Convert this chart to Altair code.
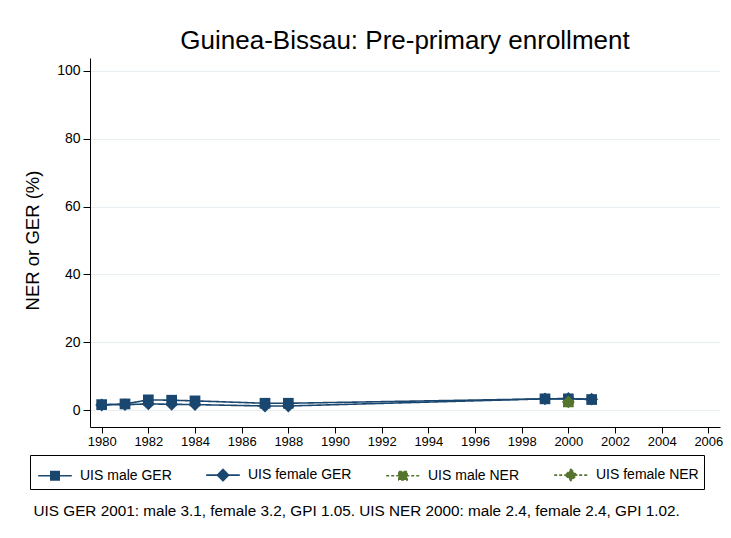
import altair as alt
import pandas as pd

# ---- data ----
series_names = ["UIS male GER", "UIS female GER", "UIS male NER", "UIS female NER"]
years_ger = [1980, 1981, 1982, 1983, 1984, 1987, 1988, 1999, 2000, 2001]
male_ger = [1.6, 1.8, 3.0, 2.9, 2.7, 2.0, 2.0, 3.3, 3.3, 3.1]
female_ger = [1.5, 1.6, 1.8, 1.7, 1.6, 1.2, 1.2, 3.3, 3.4, 3.2]
years_ner = [2000]
male_ner = [2.4]
female_ner = [2.4]

colors = ["#1a476f", "#1a476f", "#55752f", "#55752f"]
dashes = [[1, 0], [1, 0], [3, 2], [3, 2]]

x_ticks = list(range(1980, 2007, 2))
y_ticks = [0, 20, 40, 60, 80, 100]

title_text = "Guinea-Bissau: Pre-primary enrollment"
y_title = "NER or GER (%)"
footnote = ("UIS GER 2001: male 3.1, female 3.2, GPI 1.05. "
            "UIS NER 2000: male 2.4, female 2.4, GPI 1.02.")

rows = []
for name, yrs, vals in [
    (series_names[0], years_ger, male_ger),
    (series_names[1], years_ger, female_ger),
    (series_names[2], years_ner, male_ner),
    (series_names[3], years_ner, female_ner),
]:
    for yr, v in zip(yrs, vals):
        rows.append({"series": name, "year": yr, "value": v,
                     "sex": "female" if "female" in name else "male"})
df = pd.DataFrame(rows)

FONT = "Liberation Sans"

# legend symbols: a short line with the marker in the middle
sq_path = "M-1.2,0H1.2M-0.3,-0.3H0.3V0.3H-0.3Z"
di_path = "M-1.2,0H1.2M0,-0.4L0.4,0L0,0.4L-0.4,0Z"
legend_shapes = [sq_path, di_path, sq_path, di_path]

color_scale = alt.Scale(domain=series_names, range=colors)
stroke_scale = alt.Scale(domain=series_names, range=colors)
dash_scale = alt.Scale(domain=series_names, range=dashes)
shape_scale = alt.Scale(domain=series_names, range=legend_shapes)

x_enc = alt.X(
    "year:Q",
    scale=alt.Scale(domain=[1979.5, 2006.5], nice=False, zero=False),
    axis=alt.Axis(
        values=x_ticks, format="d", grid=False,
        tickSize=6, tickColor="black", domainColor="black",
        labelFontSize=13, labelFont=FONT, labelColor="black",
        labelPadding=2, labelFlush=False,
        title=footnote, titleX=-57, titleY=83, titleAlign="left",
        titleBaseline="middle", titleFontSize=15.3, titleFont=FONT,
        titleFontWeight="normal", titleColor="black",
    ),
)
y_enc = alt.Y(
    "value:Q",
    scale=alt.Scale(domain=[-5, 103.8], nice=False, zero=False),
    axis=alt.Axis(
        values=y_ticks, grid=True, gridColor="#e6eef1", gridWidth=1,
        tickSize=7, tickColor="black", domainColor="black",
        labelFontSize=14, labelFont=FONT, labelColor="black", labelPadding=3,
        title=y_title, titleX=-58, titleY=182, titleAngle=270,
        titleAlign="center", titleBaseline="middle", titleFontSize=18.5,
        titleFont=FONT, titleFontWeight="normal", titleColor="black",
    ),
)

legend = alt.Legend(
    title=" ", titleOrient="left", titlePadding=5, titleFontSize=14,
    orient="none", legendX=-60, legendY=397,
    direction="horizontal", columns=4, columnPadding=31,
    padding=5, strokeColor="black", fillColor="white",
    symbolSize=784, symbolStrokeWidth=1.6, symbolOpacity=1,
    labelOffset=10, labelFontSize=14, labelFont=FONT,
    labelColor="black", labelLimit=300,
)

base = alt.Chart(df)
# legend-only layer (draws no marks); placed first so its legend settings win
legend_layer = base.transform_filter("false").mark_point(
    filled=True, strokeWidth=1.6, opacity=1
).encode(
    x=x_enc, y=y_enc,
    color=alt.Color("series:N", scale=color_scale, legend=legend),
    stroke=alt.Stroke("series:N", scale=stroke_scale, legend=legend),
    shape=alt.Shape("series:N", scale=shape_scale, legend=legend),
    strokeDash=alt.StrokeDash("series:N", scale=dash_scale, legend=legend),
)
lines = base.mark_line(strokeWidth=1.6).encode(
    x=x_enc, y=y_enc,
    color=alt.Color("series:N", scale=color_scale, legend=None),
    strokeDash=alt.StrokeDash("series:N", scale=dash_scale, legend=None),
)
squares = base.transform_filter(alt.datum.sex == "male").mark_point(
    shape="square", filled=True, size=115, opacity=1
).encode(
    x=x_enc, y=y_enc,
    color=alt.Color("series:N", scale=color_scale, legend=None),
)
diamonds = base.transform_filter(alt.datum.sex == "female").mark_point(
    shape="diamond", filled=True, size=165, opacity=1
).encode(
    x=x_enc, y=y_enc,
    color=alt.Color("series:N", scale=color_scale, legend=None),
)

chart = (
    alt.layer(legend_layer, lines, squares, diamonds)
    .properties(
        width=630, height=369,
        title=alt.TitleParams(
            title_text, fontSize=26, font=FONT, fontWeight="normal",
            color="black", anchor="middle", frame="group", offset=4,
        ),
        autosize=alt.AutoSizeParams(type="none"),
        padding={"left": 82, "top": 50, "right": 3, "bottom": 103},
        background="white",
    )
    .configure_view(stroke=None)
)

chart.save("out.html", embed_options={"renderer": "svg", "actions": False})
